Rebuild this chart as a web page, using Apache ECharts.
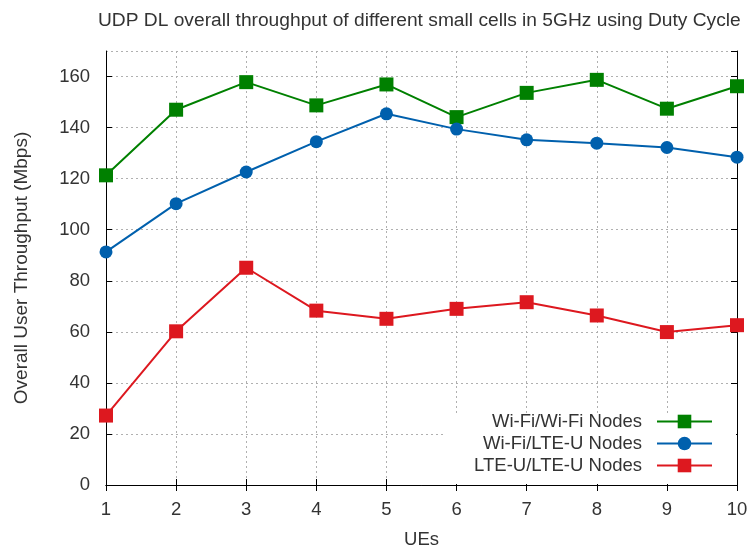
<!DOCTYPE html>
<html>
<head>
<meta charset="utf-8">
<script src="https://cdn.jsdelivr.net/npm/echarts@6/dist/echarts.min.js"></script>
<style>
  html, body { margin: 0; padding: 0; background: #fff; }
  #chart { width: 750px; height: 554px; }
</style>
</head>
<body>
<div id="chart"></div>
<script>
const ues = [1, 2, 3, 4, 5, 6, 7, 8, 9, 10];
const wifiWifi = [121.3, 147.0, 157.8, 148.7, 156.9, 144.1, 153.6, 158.7, 147.4, 156.2];
const wifiLteu = [91.3, 110.2, 122.6, 134.5, 145.4, 139.4, 135.2, 133.9, 132.2, 128.4];
const lteuLteu = [27.2, 60.2, 85.1, 68.3, 65.1, 69.0, 71.6, 66.4, 59.9, 62.6];
const seriesNames = ['Wi-Fi/Wi-Fi Nodes', 'Wi-Fi/LTE-U Nodes', 'LTE-U/LTE-U Nodes'];

const font = 'Liberation Sans';
const textColor = '#333';
const fontSize = 18.5;

const pairs = (vals) => ues.map((u, i) => [u, vals[i]]);

const chart = echarts.init(document.getElementById('chart'));

const gridLine = { show: true, lineStyle: { color: '#b0b0b0', type: [2, 3], width: 1 } };
const tick = { show: true, inside: true, length: 6, lineStyle: { color: '#000' } };

const makeLine = (name, vals, color, symbol, size) => ({
  name: name,
  type: 'line',
  data: pairs(vals),
  symbol: symbol,
  symbolSize: size,
  lineStyle: { color: color, width: 2 },
  itemStyle: { color: color },
  z: 5
});

// one legend per row so the icons line up on the right
const legendAt = (name, top) => ({
  data: [name],
  orient: 'vertical',
  right: 37,
  top: top,
  align: 'right',
  itemWidth: 55,
  itemHeight: 17,
  itemGap: 0,
  padding: 0,
  textStyle: { fontFamily: font, fontSize: 18.5, color: textColor, padding: [0, 10, 0, 0] },
  z: 10
});

chart.setOption({
  backgroundColor: '#fff',
  animation: false,
  title: {
    text: 'UDP DL overall throughput of different small cells in 5GHz using Duty Cycle',
    left: 93,
    top: 6,
    textStyle: { fontFamily: font, fontSize: 19.2, fontWeight: 'normal', color: textColor }
  },
  grid: { left: 106, right: 13, top: 51, bottom: 69, outerBoundsMode: 'none' },
  legend: [
    legendAt(seriesNames[0], 412),
    legendAt(seriesNames[1], 434),
    legendAt(seriesNames[2], 456)
  ],
  graphic: [{
    type: 'rect',
    shape: { x: 446, y: 413, width: 290, height: 71 },
    style: { fill: '#fff' },
    z: 3
  }],
  xAxis: [{
    type: 'value',
    min: 1,
    max: 10,
    interval: 1,
    name: 'UEs',
    nameLocation: 'middle',
    nameGap: 45,
    nameTextStyle: { fontFamily: font, fontSize: fontSize, color: textColor },
    axisLine: { lineStyle: { color: '#000', width: 1 } },
    axisTick: tick,
    axisLabel: { fontFamily: font, fontSize: fontSize, color: textColor, margin: 15 },
    splitLine: gridLine
  }, {
    type: 'value',
    position: 'top',
    min: 1,
    max: 10,
    interval: 1,
    axisLine: { lineStyle: { color: '#000', width: 1 } },
    axisTick: tick,
    axisLabel: { show: false },
    splitLine: { show: false }
  }],
  yAxis: [{
    type: 'value',
    min: 0,
    max: 170,
    interval: 20,
    name: 'Overall User Throughput (Mbps)',
    nameLocation: 'middle',
    nameGap: 75,
    nameTextStyle: { fontFamily: font, fontSize: 19, color: textColor },
    axisLine: { show: true, lineStyle: { color: '#000', width: 1 } },
    axisTick: tick,
    axisLabel: { fontFamily: font, fontSize: fontSize, color: textColor, margin: 16, showMaxLabel: false },
    splitLine: gridLine
  }, {
    type: 'value',
    position: 'right',
    min: 0,
    max: 170,
    interval: 20,
    axisLine: { show: true, lineStyle: { color: '#000', width: 1 } },
    axisTick: tick,
    axisLabel: { show: false },
    splitLine: { show: false }
  }],
  series: [
    makeLine(seriesNames[0], wifiWifi, '#008000', 'rect', 14),
    makeLine(seriesNames[1], wifiLteu, '#0060ad', 'circle', 13),
    makeLine(seriesNames[2], lteuLteu, '#dd181f', 'rect', 14)
  ]
});
</script>
</body>
</html>
